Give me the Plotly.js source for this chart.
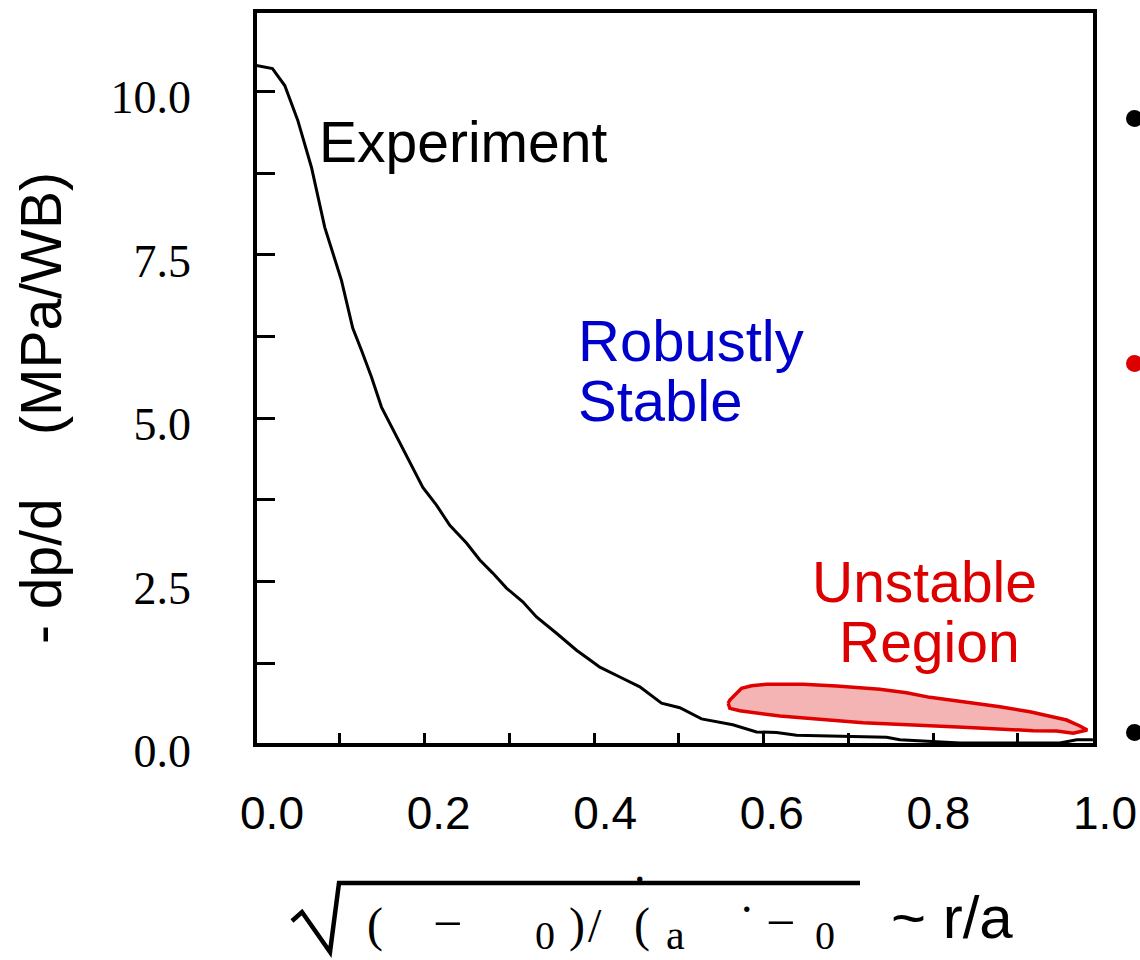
<!DOCTYPE html>
<html>
<head>
<meta charset="utf-8">
<script src="https://cdn.plot.ly/plotly-3.0.1.min.js"></script>
<style>html,body{margin:0;padding:0;background:#fff;}#chart{width:1140px;height:960px;}</style>
</head>
<body>
<div id="chart"></div>
<script>
// ---- data ----
const expX = [0.000, 0.0206, 0.0351, 0.0504, 0.0666, 0.0823, 0.102, 0.1153, 0.1256, 0.1374, 0.1492, 0.1684, 0.1826, 0.198, 0.2141, 0.2298, 0.2495, 0.2652, 0.2805, 0.2967, 0.3159, 0.3321, 0.3557, 0.3793, 0.3985, 0.4068, 0.4304, 0.454, 0.4796, 0.5012, 0.5268, 0.5637, 0.5917, 0.6153, 0.6389, 0.6901, 0.7451, 0.7608, 0.7962, 0.8316, 0.9495, 0.9696, 0.9885];
const expY = [10.40, 10.35, 10.09, 9.56, 8.84, 7.92, 7.11, 6.38, 6.04, 5.63, 5.17, 4.69, 4.31, 3.94, 3.67, 3.36, 3.09, 2.83, 2.63, 2.40, 2.19, 1.96, 1.71, 1.45, 1.27, 1.19, 1.04, 0.89, 0.64, 0.57, 0.40, 0.31, 0.20, 0.19, 0.15, 0.13, 0.12, 0.08, 0.05, 0.03, 0.03, 0.08, 0.08];

const unstableX = [0.5582, 0.5602, 0.574, 0.5858, 0.6035, 0.6467, 0.6861, 0.7372, 0.7687, 0.7962, 0.8355, 0.8788, 0.9142, 0.926, 0.9575, 0.9732, 0.9818, 0.9653, 0.9457, 0.9181, 0.8749, 0.8355, 0.7765, 0.7175, 0.6664, 0.6192, 0.572, 0.5602, 0.5582];
const unstableY = [0.638, 0.688, 0.867, 0.907, 0.928, 0.928, 0.902, 0.852, 0.800, 0.729, 0.662, 0.586, 0.509, 0.474, 0.382, 0.291, 0.229, 0.179, 0.214, 0.219, 0.240, 0.271, 0.306, 0.341, 0.393, 0.443, 0.524, 0.561, 0.638];

const yTickVals = [0, 1.25, 2.5, 3.75, 5, 6.25, 7.5, 8.75, 10];
const yTickText = ['0.0', '', '2.5', '', '5.0', '', '7.5', '', '10.0'];
const xTickVals = [0.0, 0.2, 0.4, 0.6, 0.8, 1.0];
const xTickText = ['0.0', '0.2', '0.4', '0.6', '0.8', '1.0'];

const labelExperiment = 'Experiment';
const labelStable = ['Robustly', 'Stable'];
const labelUnstable = ['Unstable', 'Region'];
const yTitle = '- dp/d\u00a0\u00a0\u00a0\u00a0(MPa/WB)';

// ---- layout helpers (pixel -> paper) ----
const W = 1140, H = 960;
const PX = v => v / W;
const PY = v => 1 - v / H;
const SANS = 'Liberation Sans, Arial, sans-serif';
const SERIF = 'Liberation Serif, Times New Roman, serif';

function ann(text, x, y, size, family, color, xanchor, extra) {
  return Object.assign({
    text: text, xref: 'paper', yref: 'paper', x: PX(x), y: PY(y),
    xanchor: xanchor || 'left', yanchor: 'middle', showarrow: false,
    font: {family: family, size: size, color: color || '#000'}
  }, extra || {});
}

const traces = [
  {
    type: 'scatter', mode: 'lines', x: unstableX, y: unstableY,
    fill: 'toself', fillcolor: 'rgb(244,180,180)',
    line: {color: 'rgb(224,0,0)', width: 3.5}, hoverinfo: 'skip'
  },
  {
    type: 'scatter', mode: 'lines', x: expX, y: expY,
    line: {color: '#000', width: 3}, hoverinfo: 'skip'
  },
  {
    type: 'scatter', mode: 'markers', x: [0], y: [0], xaxis: 'x2', yaxis: 'y',
    marker: {opacity: 0}, hoverinfo: 'skip'
  }
];

const annotations = [
  ann(labelExperiment, 317, 142, 57, SANS, '#000'),
  ann(labelStable[0], 576, 340, 58, SANS, 'rgb(0,0,204)'),
  ann(labelStable[1], 576, 400, 58, SANS, 'rgb(0,0,204)'),
  ann(labelUnstable[0], 810, 582, 57, SANS, 'rgb(221,0,0)'),
  ann(labelUnstable[1], 837, 642, 57, SANS, 'rgb(221,0,0)'),
  ann(yTitle, 41, 408, 57, SANS, '#000', 'center', {textangle: -90}),
  // x-axis title pieces
  ann('(', 365, 925, 48, SERIF),
  ann('\u2212', 431, 923, 52, SERIF),
  ann('0', 533, 935, 40, SERIF),
  ann(')', 567, 925, 48, SERIF),
  ann('/', 586, 925, 48, SERIF),
  ann('(', 632, 925, 48, SERIF),
  ann('.', 632, 866, 46, SERIF),
  ann('a', 664, 935, 42, SERIF),
  ann('.', 739, 896, 46, SERIF),
  ann('\u2212', 764, 922, 52, SERIF),
  ann('0', 813, 935, 40, SERIF),
  ann('~ r/a', 889, 917, 60, SANS)
];

const shapes = [
  {type: 'rect', xref: 'x domain', yref: 'y domain', x0: 0, x1: 1, y0: 0, y1: 1,
   line: {color: '#000', width: 4}, layer: 'above'},
  // radical sign with its bar
  {type: 'path', xref: 'paper', yref: 'paper',
   path: 'M ' + PX(292) + ' ' + PY(921) + ' L ' + PX(302) + ' ' + PY(912) +
         ' L ' + PX(330) + ' ' + PY(952) + ' L ' + PX(339) + ' ' + PY(883) +
         ' L ' + PX(860) + ' ' + PY(883),
   line: {color: '#000', width: 4.5}},
  // bullets of the neighbouring slide text, cut by the right edge
  {type: 'circle', xref: 'paper', yref: 'paper', x0: PX(1126), x1: PX(1143), y0: PY(110), y1: PY(127),
   fillcolor: '#000', line: {width: 0}},
  {type: 'circle', xref: 'paper', yref: 'paper', x0: PX(1126), x1: PX(1143), y0: PY(355), y1: PY(372),
   fillcolor: 'rgb(221,0,0)', line: {width: 0}},
  {type: 'circle', xref: 'paper', yref: 'paper', x0: PX(1126), x1: PX(1143), y0: PY(724), y1: PY(741),
   fillcolor: '#000', line: {width: 0}}
];

const layout = {
  width: W, height: H,
  margin: {l: 0, r: 0, t: 0, b: 0, pad: 0},
  paper_bgcolor: '#fff', plot_bgcolor: 'rgba(0,0,0,0)',
  showlegend: false,
  xaxis: {
    domain: [PX(255), PX(1095)], range: [0, 0.991], anchor: 'y',
    tick0: 0, dtick: 0.1, ticks: 'inside', ticklen: 12, tickwidth: 3, tickcolor: '#000',
    showticklabels: false, showline: false, showgrid: false, zeroline: false
  },
  xaxis2: {
    domain: [0, 1], anchor: 'y', range: [-272 / 833, 868 / 833],
    tickmode: 'array', tickvals: xTickVals, ticktext: xTickText,
    ticks: '', showline: false, showgrid: false, zeroline: false,
    tickfont: {family: SANS, size: 46, color: '#000'}, ticklabelstandoff: 37
  },
  yaxis: {
    domain: [PY(745), PY(11)], range: [0, 11.23], anchor: 'x',
    tickmode: 'array', tickvals: yTickVals, ticktext: yTickText,
    ticks: 'inside', ticklen: 20, tickwidth: 3, tickcolor: '#000',
    showline: false, showgrid: false, zeroline: false,
    tickfont: {family: SERIF, size: 46, color: '#000'},
    ticklabelstandoff: 63, ticklabelshift: 6
  },
  annotations: annotations,
  shapes: shapes
};

Plotly.newPlot('chart', traces, layout, {displayModeBar: false, staticPlot: true});
</script>
</body>
</html>
